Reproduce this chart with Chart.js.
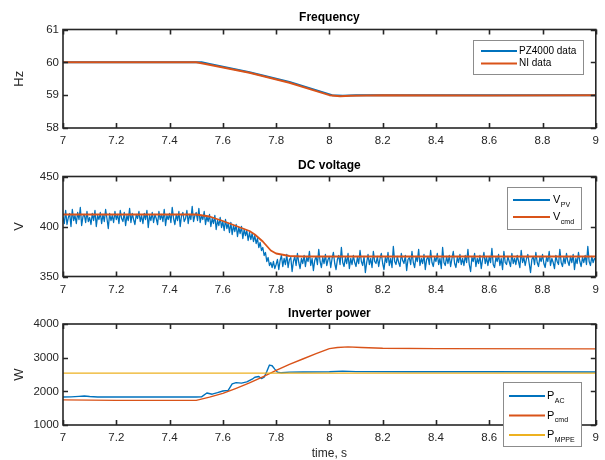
<!DOCTYPE html>
<html>
<head>
<meta charset="utf-8">
<script src="https://cdn.jsdelivr.net/npm/chart.js@4.4.1/dist/chart.umd.min.js"></script>
<style>
  html, body { margin: 0; padding: 0; background: #fff; }
  #wrap { position: relative; width: 605px; height: 460px; overflow: hidden; }
  .panel { position: absolute; left: 0; width: 605px; }
</style>
</head>
<body>
<div id="wrap">
  <div class="panel" style="top:0px;height:150px"><canvas id="freq" width="605" height="150"></canvas></div>
  <div class="panel" style="top:150px;height:150px"><canvas id="volt" width="605" height="150"></canvas></div>
  <div class="panel" style="top:295px;height:165px"><canvas id="power" width="605" height="165"></canvas></div>
</div>
<script>
// ---- data ----
const timeTicks = [7, 7.2, 7.4, 7.6, 7.8, 8, 8.2, 8.4, 8.6, 8.8, 9];
const freqTicks = [58, 59, 60, 61];
const voltTicks = [350, 400, 450];
const powerTicks = [1000, 2000, 3000, 4000];

// Frequency (Hz)
const pzTime = [7, 7.3, 7.52, 7.55, 7.7, 7.85, 8.01, 8.05, 8.1, 8.5, 9];
const pzFreq = [60, 60, 60, 59.95, 59.7, 59.4, 59.0, 58.98, 59.0, 59.0, 59.0];
const niTime = [7, 7.3, 7.5, 7.53, 7.7, 7.85, 8.0, 8.04, 8.08, 8.2, 8.6, 9];
const niFreq = [60, 60, 60, 59.96, 59.68, 59.38, 59.0, 58.97, 58.98, 59.0, 58.99, 59.0];

// DC voltage: measured PV voltage sampled every 5 ms from 7 s
const vpvStart = 7;
const vpvStep = 0.005;
const vpv = [
  410,403,416,402,409,413,400,417,406,411,403,414,407,419,401,410,412,404,415,405,
  409,402,413,406,416,400,411,407,414,403,412,405,417,408,398,413,406,411,404,415,
  407,412,403,416,408,405,414,401,411,406,418,404,413,407,402,412,408,415,405,411,
  403,413,407,416,399,411,406,414,404,412,408,402,415,407,412,405,417,401,411,407,
  413,404,419,408,402,412,406,415,400,411,414,405,408,416,403,412,407,420,405,411,
  414,406,418,404,411,407,415,402,410,405,412,400,408,403,411,397,406,401,409,399,
  405,396,407,398,403,394,404,392,401,395,402,390,399,393,400,388,397,391,396,386,
  394,387,393,385,391,383,388,379,384,376,379,371,374,365,369,361,364,359,365,358,
  362,367,357,366,371,360,368,362,372,359,367,369,355,365,370,361,373,364,358,368,
  363,371,360,369,365,375,361,368,356,366,370,362,377,365,359,369,363,372,361,367,
  370,359,368,374,363,357,367,371,362,379,364,360,369,363,373,358,368,362,371,364,
  360,369,363,376,365,361,370,354,364,372,362,368,359,375,365,363,370,360,368,373,
  363,357,369,364,374,361,368,359,380,365,362,370,364,360,373,366,363,371,356,367,
  369,362,375,364,359,370,365,377,361,368,363,372,357,367,370,362,376,364,360,369,
  365,373,362,368,358,379,364,361,370,363,371,360,368,375,363,359,369,364,372,362,
  368,361,371,364,377,362,355,369,365,373,360,368,363,371,358,367,374,363,369,361,
  370,364,378,362,359,369,365,372,361,368,357,375,364,362,370,365,360,373,363,368,
  362,371,365,359,376,364,369,361,368,372,363,354,367,370,362,374,364,360,369,365,
  372,363,359,369,365,375,361,368,364,358,371,365,362,377,364,360,369,363,373,365,
  361,370,364,372,357,368,363,374,365,360,369,364,371,362,380,365,361,370,364,368,
  367
];
const cmdTime = [7, 7.5, 7.55, 7.6, 7.65, 7.7, 7.72, 7.75, 7.78, 7.8, 7.85, 7.9, 9];
const vcmd = [412, 412, 410, 405.5, 400.5, 395.5, 392, 385, 376, 373, 370.5, 370, 370];

// Inverter power (W)
const acTime = [7, 7.03, 7.06, 7.08, 7.1, 7.13, 7.5, 7.52, 7.54, 7.56, 7.58, 7.6, 7.62, 7.635, 7.65, 7.67,
  7.69, 7.71, 7.72, 7.735, 7.745, 7.755, 7.765, 7.775, 7.785, 7.795, 7.805, 7.82, 7.85, 7.9, 8.0, 8.05,
  8.1, 8.3, 8.6, 9];
const pAC = [1830, 1835, 1850, 1860, 1845, 1830, 1830, 1835, 1950, 1915, 1960, 2010, 2030, 2220, 2260, 2245,
  2280, 2360, 2420, 2440, 2380, 2420, 2590, 2780, 2760, 2660, 2570, 2550, 2570, 2575, 2580, 2600,
  2585, 2580, 2580, 2575];
const pcmdTime = [7, 7.2, 7.5, 7.55, 7.6, 7.65, 7.7, 7.75, 7.8, 7.85, 7.9, 7.95, 8.0, 8.03, 8.07, 8.12, 8.2, 8.4, 9];
const pCmd = [1745, 1730, 1730, 1830, 1940, 2090, 2250, 2430, 2620, 2800, 2960, 3120, 3270, 3300, 3320, 3300, 3280, 3270, 3260];
const mppeTime = [7, 9];
const pMPPE = [2540, 2540];

// ---- styling ----
const C_BLUE = '#0072BD';
const C_ORANGE = '#D95319';
const C_YELLOW = '#EDB120';
const AXIS = '#262626';
const FONT = '"Liberation Sans", Arial, Helvetica, sans-serif';

const pts = (xs, ys) => xs.map((x, i) => ({ x: x, y: ys[i] }));

// box, inward ticks, title and legend in MATLAB style
const matlabAxes = {
  id: 'matlabAxes',
  afterDatasetsDraw(chart, args, opts) {
    const { ctx, chartArea: a, scales: { x, y } } = chart;
    ctx.save();
    ctx.strokeStyle = AXIS;
    ctx.lineWidth = 1.6;
    ctx.strokeRect(a.left, a.top, a.right - a.left, a.bottom - a.top);
    ctx.beginPath();
    const len = 5;
    x.ticks.forEach(t => {
      const px = Math.round(x.getPixelForValue(t.value)) + 0.5;
      ctx.moveTo(px, a.bottom); ctx.lineTo(px, a.bottom - len);
      ctx.moveTo(px, a.top); ctx.lineTo(px, a.top + len);
    });
    y.ticks.forEach(t => {
      const py = Math.round(y.getPixelForValue(t.value)) + 0.5;
      ctx.moveTo(a.left, py); ctx.lineTo(a.left + len, py);
      ctx.moveTo(a.right, py); ctx.lineTo(a.right - len, py);
    });
    ctx.stroke();

    ctx.fillStyle = '#000';
    ctx.font = 'bold 12px ' + FONT;
    ctx.textAlign = 'center';
    ctx.textBaseline = 'middle';
    ctx.fillText(opts.title, (a.left + a.right) / 2, opts.titleY);

    const L = opts.legend;
    ctx.fillStyle = '#fff';
    ctx.fillRect(L.x, L.y, L.w, L.h);
    ctx.strokeStyle = '#8c8c8c';
    ctx.lineWidth = 1;
    ctx.strokeRect(L.x + 0.5, L.y + 0.5, L.w, L.h);
    L.items.forEach((it, i) => {
      const ry = L.y + L.first + i * L.gap;
      ctx.strokeStyle = it.color;
      ctx.lineWidth = 2;
      ctx.beginPath();
      ctx.moveTo(L.x + L.lineFrom, ry);
      ctx.lineTo(L.x + L.lineTo, ry);
      ctx.stroke();
      ctx.fillStyle = '#000';
      ctx.textAlign = 'left';
      ctx.textBaseline = 'middle';
      ctx.font = L.size + 'px ' + FONT;
      const tx = L.x + L.textX;
      ctx.fillText(it.text, tx, ry);
      if (it.sub) {
        const w = ctx.measureText(it.text).width;
        ctx.font = '7px ' + FONT;
        ctx.fillText(it.sub, tx + w + 0.5, ry + 5);
      }
    });
    ctx.restore();
  }
};

function makePanel(id, cfg) {
  return new Chart(document.getElementById(id), {
    type: 'line',
    data: { datasets: cfg.datasets },
    options: {
      responsive: false,
      animation: false,
      devicePixelRatio: 1,
      layout: { padding: { top: cfg.top, right: 7, bottom: 0, left: 0 } },
      elements: { point: { radius: 0 }, line: { tension: 0, borderJoinStyle: 'round' } },
      plugins: {
        legend: { display: false },
        tooltip: { enabled: false },
        matlabAxes: { title: cfg.title, titleY: cfg.titleY, legend: cfg.legend }
      },
      scales: {
        x: {
          type: 'linear',
          min: 7, max: 9,
          grid: { display: false, drawTicks: false },
          border: { display: false },
          afterBuildTicks: s => { s.ticks = timeTicks.map(v => ({ value: v })); },
          afterFit: s => { s.height = cfg.xHeight; },
          ticks: { padding: 6, color: AXIS, font: { family: FONT, size: 11.5 }, maxRotation: 0, autoSkip: false,
                   callback: v => String(v) },
          title: cfg.xTitle ? { display: true, text: cfg.xTitle, color: AXIS, padding: 0,
                   font: { family: FONT, size: 12, lineHeight: 1.0 } } : { display: false }
        },
        y: {
          min: cfg.yTicks[0], max: cfg.yTicks[cfg.yTicks.length - 1],
          grid: { display: false, drawTicks: false },
          border: { display: false },
          afterBuildTicks: s => { s.ticks = cfg.yTicks.map(v => ({ value: v })); },
          afterFit: s => { s.width = 63; },
          ticks: { padding: 4, color: AXIS, font: { family: FONT, size: 11.5 }, callback: v => String(v) },
          title: { display: true, text: cfg.yTitle, color: AXIS, padding: { top: 12, bottom: 0 },
                   font: { family: FONT, size: 13 } }
        }
      }
    },
    plugins: [matlabAxes]
  });
}

makePanel('freq', {
  top: 29.5, xHeight: 22, title: 'Frequency', titleY: 18, yTitle: 'Hz', yTicks: freqTicks,
  datasets: [
    { data: pts(pzTime, pzFreq), borderColor: C_BLUE, borderWidth: 2, order: 2 },
    { data: pts(niTime, niFreq), borderColor: C_ORANGE, borderWidth: 2, order: 1 }
  ],
  legend: { x: 473, y: 40, w: 110, h: 34, first: 11, gap: 12.5, lineFrom: 8, lineTo: 44, textX: 46, size: 10,
            items: [{ text: 'PZ4000 data', color: C_BLUE }, { text: 'NI data', color: C_ORANGE }] }
});

makePanel('volt', {
  top: 26.5, xHeight: 23.5, title: 'DC voltage', titleY: 16, yTitle: 'V', yTicks: voltTicks,
  datasets: [
    { data: vpv.map((v, i) => ({ x: vpvStart + i * vpvStep, y: v })), borderColor: C_BLUE, borderWidth: 1.3, order: 2 },
    { data: pts(cmdTime, vcmd), borderColor: C_ORANGE, borderWidth: 1.8, order: 1 }
  ],
  legend: { x: 507, y: 37, w: 74, h: 42, first: 13, gap: 17, lineFrom: 6, lineTo: 43, textX: 46, size: 11,
            items: [{ text: 'V', sub: 'PV', color: C_BLUE }, { text: 'V', sub: 'cmd', color: C_ORANGE }] }
});

makePanel('power', {
  top: 29, xHeight: 35, title: 'Inverter power', titleY: 19, yTitle: 'W', yTicks: powerTicks, xTitle: 'time, s',
  datasets: [
    { data: pts(acTime, pAC), borderColor: C_BLUE, borderWidth: 1.4, order: 3 },
    { data: pts(pcmdTime, pCmd), borderColor: C_ORANGE, borderWidth: 1.4, order: 2 },
    { data: pts(mppeTime, pMPPE), borderColor: C_YELLOW, borderWidth: 1.4, order: 1 }
  ],
  legend: { x: 503, y: 87, w: 78, h: 64, first: 14, gap: 19.5, lineFrom: 6, lineTo: 42, textX: 44, size: 11,
            items: [{ text: 'P', sub: 'AC', color: C_BLUE }, { text: 'P', sub: 'cmd', color: C_ORANGE },
                    { text: 'P', sub: 'MPPE', color: C_YELLOW }] }
});
</script>
</body>
</html>
